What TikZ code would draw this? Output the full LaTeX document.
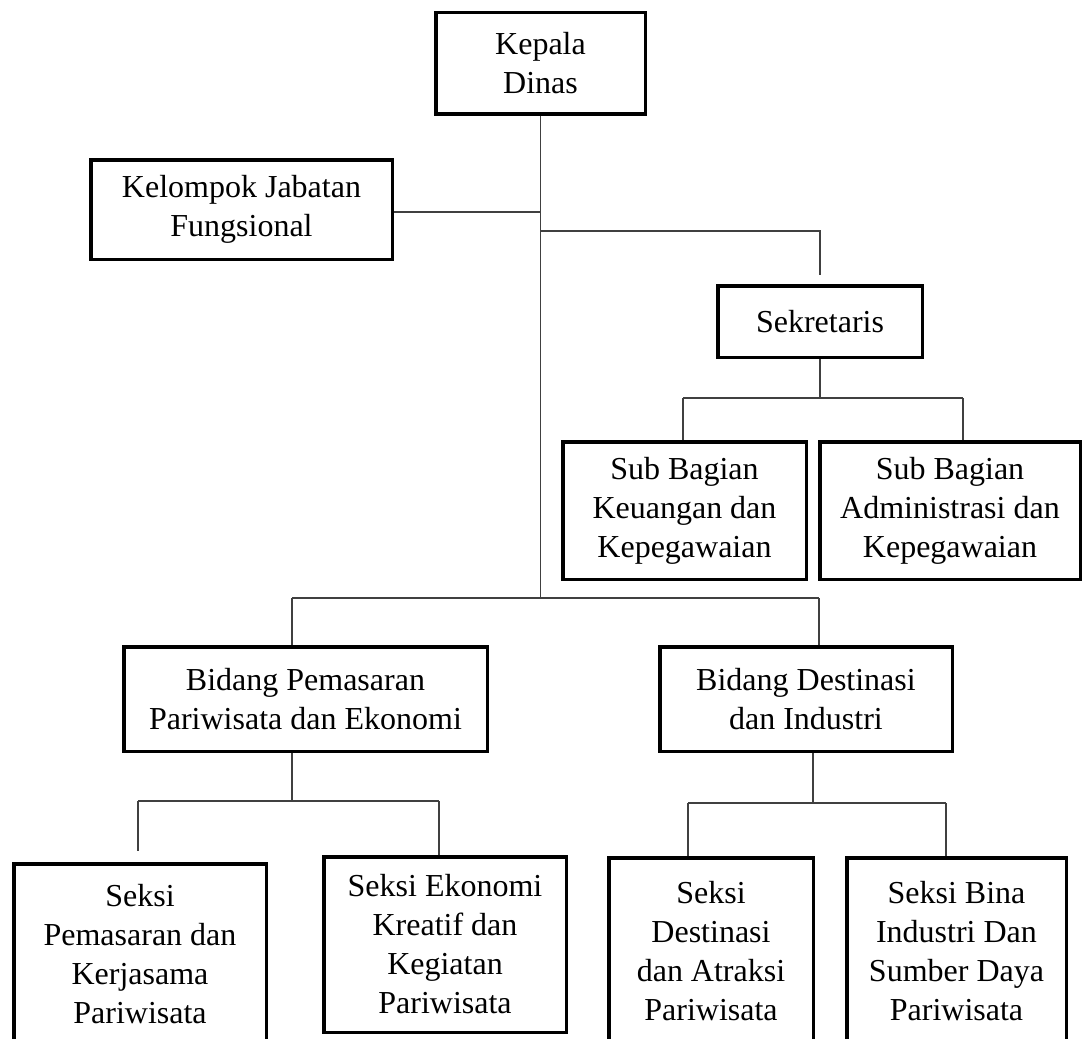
\documentclass[tikz,border=0pt]{standalone}
\usepackage{fontspec}
\setmainfont{Liberation Serif}
\begin{document}
\begin{tikzpicture}[x=1pt,y=-1pt,
  box/.style={draw=black, line width=3.5pt, align=center, inner sep=0pt,
    font=\fontsize{32}{39}\selectfont, fill=white},
  conn/.style={draw=black!75, line width=1.3pt}]
\useasboundingbox (0,0) rectangle (1083,1038);
\clip (0,0) rectangle (1083,1038);
% boxes
\node[box, minimum width=209.5pt, minimum height=101.5pt] (kepala) at (540.5,63.5) {Kepala\\Dinas};
\node[box, minimum width=301.5pt, minimum height=99.5pt] (kelompok) at (241.5,209.5) {Kelompok Jabatan\\Fungsional};
\node[box, minimum width=204.5pt, minimum height=71.5pt] (sek) at (820,321.5) {Sekretaris};
\node[box, minimum width=243.5pt, minimum height=137.5pt] (keu) at (684.5,510.5) {Sub Bagian\\Keuangan dan\\Kepegawaian};
\node[box, minimum width=260.5pt, minimum height=137.5pt] (adm) at (950,510.5) {Sub Bagian\\Administrasi dan\\Kepegawaian};
\node[box, minimum width=363.5pt, minimum height=104.5pt] (bidP) at (305.5,699) {Bidang Pemasaran\\Pariwisata dan Ekonomi};
\node[box, minimum width=292.5pt, minimum height=104.5pt] (bidD) at (806,699) {Bidang Destinasi\\dan Industri};
\node[box, minimum width=252.5pt, minimum height=180.5pt] (sp) at (140,954) {Seksi\\Pemasaran dan\\Kerjasama\\Pariwisata};
\node[box, minimum width=242.5pt, minimum height=175.5pt] (se) at (445,944.5) {Seksi Ekonomi\\Kreatif dan\\Kegiatan\\Pariwisata};
\node[box, minimum width=204.5pt, minimum height=186.5pt] (sd) at (711,951) {Seksi\\Destinasi\\dan Atraksi\\Pariwisata};
\node[box, minimum width=219.5pt, minimum height=186.5pt] (sb) at (956.5,951) {Seksi Bina\\Industri Dan\\Sumber Daya\\Pariwisata};
% coordinates
\coordinate (tb) at (541,598);
\coordinate (sj) at (541,231);
\coordinate (sbl) at (683,398);
\coordinate (sbr) at (963,398);
\coordinate (mbl) at (292,598);
\coordinate (mbr) at (819,598);
\coordinate (pbl) at (138,801);
\coordinate (pbr) at (439,801);
\coordinate (pmid) at (292,801);
\coordinate (spgap) at (138,851);
\coordinate (dbl) at (688,803);
\coordinate (dbr) at (946,803);
\coordinate (dmid) at (813,803);
% connectors
\draw[conn] (kepala.south) -- (kepala.south |- tb);
\draw[conn] ([yshift=-2.5pt]kelompok.east) -- ([yshift=-2.5pt]kelompok.east -| kepala.south);
\draw[conn] (sj) -- (sj -| sek.north) -- ([yshift=9pt]sek.north);
\draw[conn] (sek.south) -- (sek.south |- sbl);
\draw[conn] (sbl) -- (sbr);
\draw[conn] (sbl) -- (sbl |- keu.north);
\draw[conn] (sbr) -- (sbr |- adm.north);
\draw[conn] (mbl) -- (mbr);
\draw[conn] (mbl) -- (mbl |- bidP.north);
\draw[conn] (mbr) -- (mbr |- bidD.north);
\draw[conn] (pmid |- bidP.south) -- (pmid);
\draw[conn] (pbl) -- (pbr);
\draw[conn] (pbl) -- (spgap);
\draw[conn] (pbr) -- (pbr |- se.north);
\draw[conn] (dmid |- bidD.south) -- (dmid);
\draw[conn] (dbl) -- (dbr);
\draw[conn] (dbl) -- (dbl |- sd.north);
\draw[conn] (dbr) -- (dbr |- sb.north);
\end{tikzpicture}
\end{document}
